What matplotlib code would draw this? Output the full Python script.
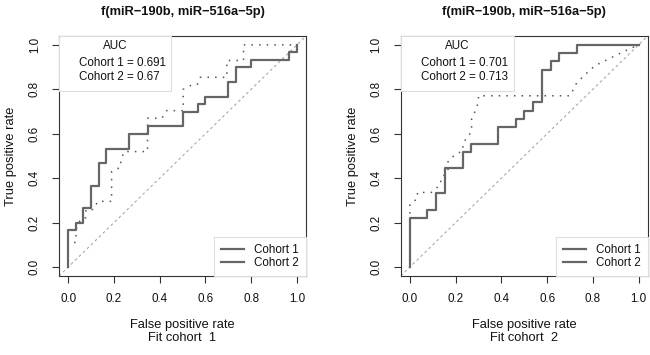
import matplotlib
matplotlib.use('Agg')
import matplotlib.pyplot as plt
from matplotlib.lines import Line2D
from matplotlib.patches import Rectangle

plt.rcParams['font.family'] = ['Liberation Sans', 'DejaVu Sans']

# ---------------- data ----------------
title = "f(miR\u2212190b, miR\u2212516a\u22125p)"
x_label = "False positive rate"
y_label = "True positive rate"
fit_labels = ["Fit cohort  1", "Fit cohort  2"]
tick_values = [0.0, 0.2, 0.4, 0.6, 0.8, 1.0]
tick_labels = ["0.0", "0.2", "0.4", "0.6", "0.8", "1.0"]
cohorts = ["Cohort 1", "Cohort 2"]
auc_fit1 = ["0.691", "0.67"]
auc_fit2 = ["0.701", "0.713"]
diag = [0.0, 1.0]

# Fit cohort 1 — Cohort 1 (solid, step points: top of each rise)
fit1_c1_fpr = [0, 0, .033, .067, .1, .133, .167, .267, .35, .5, .567, .6, .7, .733, .8, .967, 1.0]
fit1_c1_tpr = [0, .167, .2, .267, .367, .467, .533, .6, .633, .7, .733, .767, .833, .9, .933, .967, 1.0]
# Fit cohort 1 — Cohort 2 (dotted, vertices)
fit1_c2_fpr = [0, 0, .033, .037, .06, .078, .078, .11, .13, .19, .19, .23, .23, .245, .347, .347,
               .41, .43, .503, .503, .535, .564, .578, .694, .694, .767, .767, 1.0]
fit1_c2_tpr = [0, .111, .111, .185, .222, .222, .259, .259, .296, .296, .43, .45, .48, .52, .52, .67,
               .67, .704, .704, .80, .817, .82, .854, .854, .93, .93, 1.0, 1.0]

# Fit cohort 2 — Cohort 1 (solid)
fit2_c1_fpr = [0, 0, .077, .115, .154, .231, .269, .385, .462, .5, .538, .577, .615, .654, .731, 1.0]
fit2_c1_tpr = [0, .222, .259, .333, .444, .519, .556, .630, .667, .704, .741, .889, .926, .963, 1.0, 1.0]
# Fit cohort 2 — Cohort 2 (dotted)
fit2_c2_fpr = [0, 0, .033, .033, .094, .135, .135, .167, .167, .2, .232, .232, .27, .27, .283, .30, .30,
               .70, .73, .77, .81, .87, .935, 1.0]
fit2_c2_tpr = [0, .283, .308, .336, .336, .373, .40, .43, .478, .508, .523, .558, .61, .666, .696, .741, .771,
               .771, .83, .87, .907, .937, .97, 1.0]

panels = [
    (fit1_c1_fpr, fit1_c1_tpr, fit1_c2_fpr, fit1_c2_tpr, auc_fit1, fit_labels[0], 0.452),
    (fit2_c1_fpr, fit2_c1_tpr, fit2_c2_fpr, fit2_c2_tpr, auc_fit2, fit_labels[1], 0.46),
]

# ---------------- style ----------------
W, H = 650, 355
fig = plt.figure(figsize=(W / 100, H / 100), dpi=100)
curve_col = '#666666'
dot_col = '#555555'
diag_col = '#aaaaaa'
frame_col = '#dddddd'
text_col = '#111111'

lefts = [59, 400.7]
for (c1x, c1y, c2x, c2y, aucs, fitlab, boxw), left in zip(panels, lefts):
    ax = fig.add_axes([left / W, (H - 276) / H, 247 / W, 240 / H])
    ax.set_xlim(-0.04, 1.04)
    ax.set_ylim(-0.04, 1.04)
    for s in ax.spines.values():
        s.set_color('#333333')
        s.set_linewidth(0.8)
    ax.set_xticks(tick_values)
    ax.set_xticklabels(tick_labels)
    ax.set_yticks(tick_values)
    ax.set_yticklabels(tick_labels, rotation=90, va='center')
    ax.tick_params(axis='both', direction='out', length=5, width=0.8, color='#333333',
                   labelsize=8.4, labelcolor=text_col)
    ax.tick_params(axis='x', pad=7)
    ax.tick_params(axis='y', pad=8)

    ax.axline((diag[0], diag[0]), (diag[1], diag[1]), color=diag_col, lw=0.8,
              linestyle=(0, (2.5, 2.5)), zorder=1)
    ax.plot(c2x, c2y, color=dot_col, lw=1.1, linestyle=(0, (1, 4)), zorder=2)
    ax.plot(c1x, c1y, color=curve_col, lw=1.6, drawstyle='steps-post', zorder=3)

    # AUC box
    ax.add_patch(Rectangle((0, 1 - 0.229), boxw, 0.229, transform=ax.transAxes,
                           facecolor='white', edgecolor=frame_col, lw=0.8, zorder=4))
    ax.text(0.227, 0.958, "AUC", transform=ax.transAxes, ha='center', va='center',
            fontsize=8.4, color=text_col, zorder=5)
    ax.text(0.082, 0.886, f"{cohorts[0]} = {aucs[0]}", transform=ax.transAxes,
            ha='left', va='center', fontsize=8.4, color=text_col, zorder=5)
    ax.text(0.082, 0.830, f"{cohorts[1]} = {aucs[1]}", transform=ax.transAxes,
            ha='left', va='center', fontsize=8.4, color=text_col, zorder=5)

    handles = [Line2D([], [], color=curve_col, lw=1.6), Line2D([], [], color=curve_col, lw=1.6)]
    leg = ax.legend(handles, cohorts, loc='lower right', bbox_to_anchor=(1, 0),
                    borderaxespad=0, fancybox=False, edgecolor=frame_col, framealpha=1,
                    fontsize=8.4, handlelength=2.0, handletextpad=0.86, borderpad=0.6,
                    labelspacing=0.1)
    leg.get_frame().set_linewidth(0.8)
    for t in leg.get_texts():
        t.set_color(text_col)

    ax.text(0.5, 1.10, title, transform=ax.transAxes, ha='center', va='center',
            fontsize=9.3, fontweight='bold', color=text_col)
    ax.text(0.5, -0.205, x_label, transform=ax.transAxes, ha='center', va='center',
            fontsize=9.3, color=text_col)
    ax.text(0.5, -0.26, fitlab, transform=ax.transAxes, ha='center', va='center',
            fontsize=9.3, color=text_col)
    ax.text(-0.194, 0.5, y_label, transform=ax.transAxes, ha='center', va='center',
            rotation=90, fontsize=9.3, color=text_col)

fig.savefig('out.png', dpi=100)
